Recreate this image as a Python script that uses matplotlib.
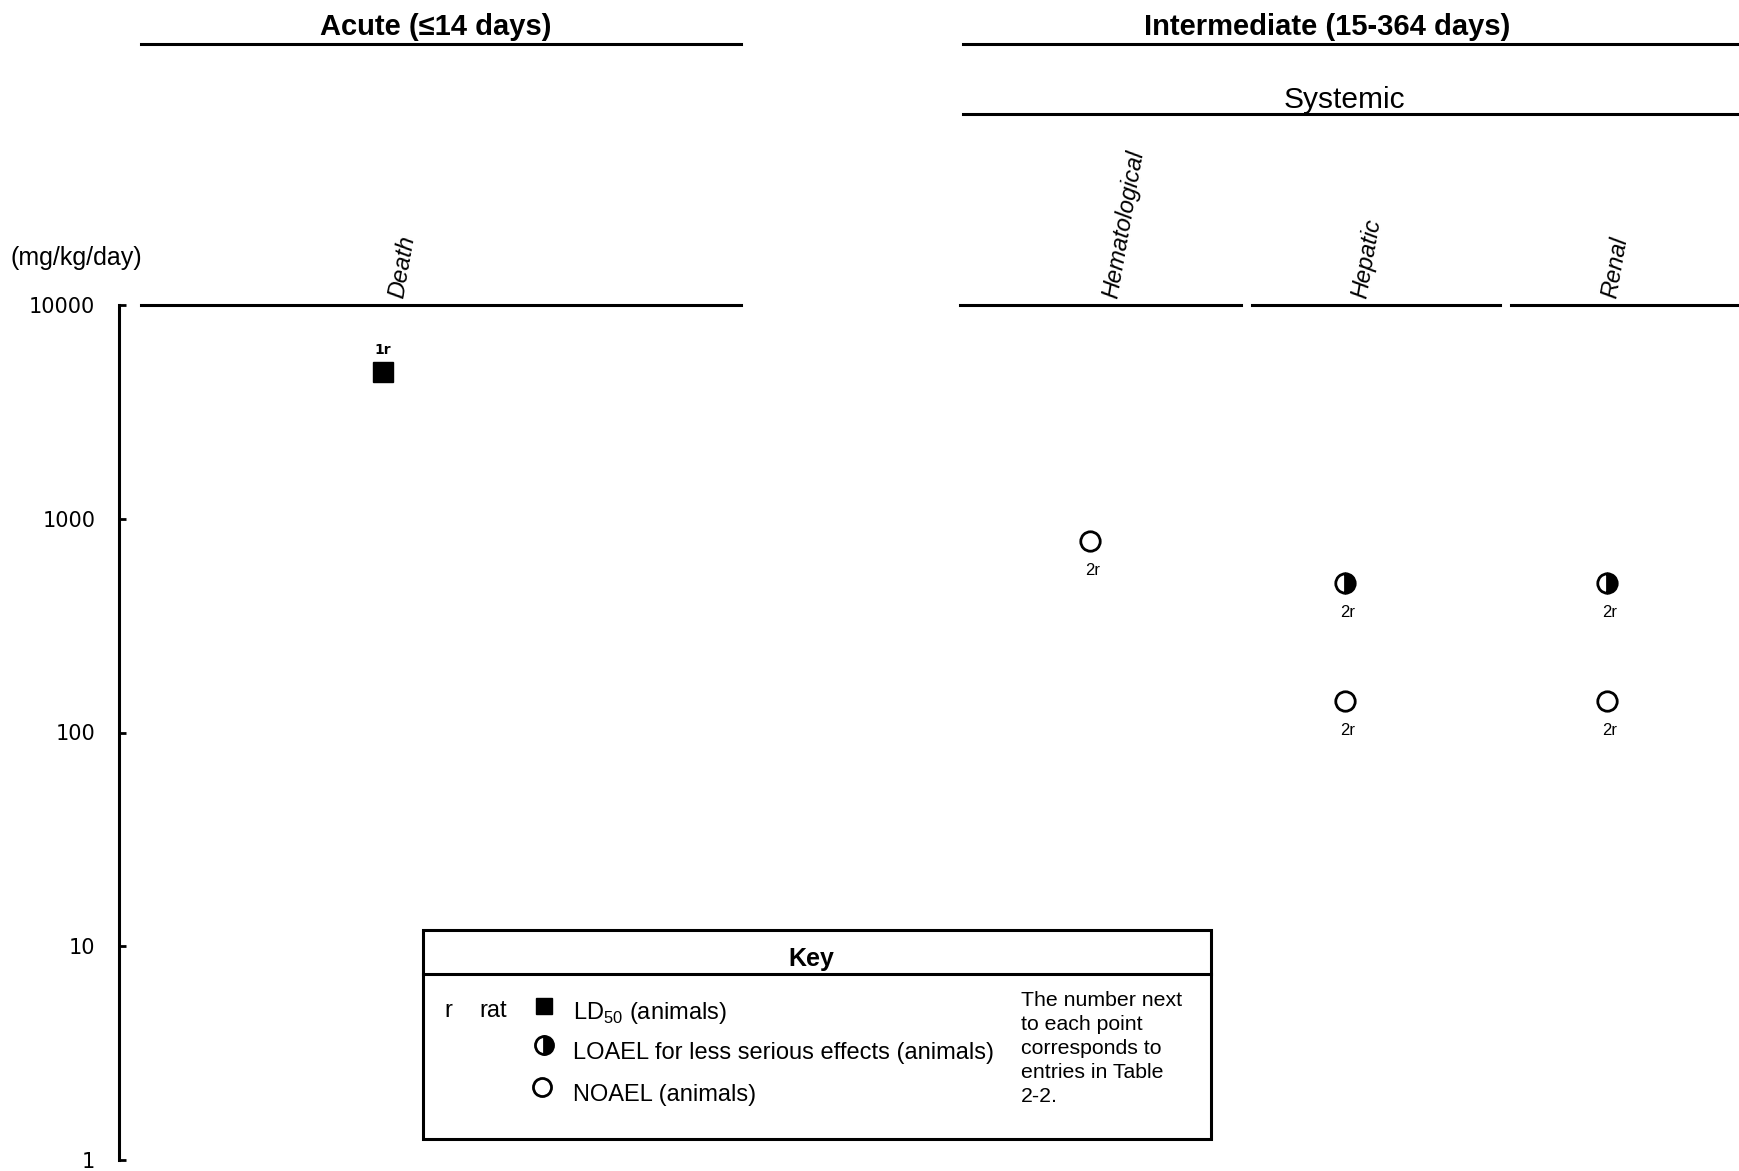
import matplotlib
matplotlib.use("Agg")
import matplotlib.pyplot as plt
from matplotlib.lines import Line2D
from matplotlib.patches import Rectangle
from matplotlib.ticker import NullLocator

NARROW = ["Liberation Sans Narrow", "Liberation Sans", "DejaVu Sans"]
plt.rcParams["mathtext.fontset"] = "custom"
plt.rcParams["mathtext.rm"] = "Liberation Sans"

# --- data ---
COLUMNS = ["Death", "Hematological", "Hepatic", "Renal"]
DOSES = [4870, 785, 500, 140, 500, 140]          # mg/kg/day
DOSE_COL = [0, 1, 2, 2, 3, 3]
DOSE_KIND = ["ld50", "noael", "loael", "noael", "loael", "noael"]
DOSE_LABEL = ["1r", "2r", "2r", "2r", "2r", "2r"]
YTICKS = [1, 10, 100, 1000, 10000]
YTICK_LABELS = ["1", "10", "100", "1000", "10000"]

# --- layout (pixels of the 1740x1171 canvas) ---
W, H = 1740, 1171
COL_X = [383, 1090, 1345, 1607]
LABEL_X = [408, 1122, 1371, 1621]
COL_LINES = [(141, 741), (960, 1241), (1252, 1500), (1511, 1740)]
AX_TOP, AX_BOT = 305, 1160


def fx(px):
    return px / W


def fy(py):
    return 1 - py / H


fig = plt.figure(figsize=(17.4, 11.71), dpi=100)
ax = fig.add_axes([fx(119), fy(AX_BOT), fx(1740 - 119), (AX_BOT - AX_TOP) / H])
ax.set_yscale("log")
ax.set_ylim(1, 10000)
ax.set_xlim(119, 1740)
ax.set_yticks(YTICKS)
ax.set_yticklabels(YTICK_LABELS, fontsize=15, family="DejaVu Sans")
ax.yaxis.set_minor_locator(NullLocator())
ax.tick_params(axis="y", direction="in", length=5, width=2, pad=17)
ax.set_xticks([])
for s in ["top", "right", "bottom"]:
    ax.spines[s].set_visible(False)
ax.spines["left"].set_linewidth(2.2)
ax.patch.set_visible(False)

# column rules at the top of the axis
for x0, x1 in COL_LINES:
    ax.plot([x0, x1], [10000, 10000], color="black", lw=2.2, clip_on=False)

# column labels, tilted
for name, lx in zip(COLUMNS, LABEL_X):
    fig.text(fx(lx), fy(300), name, rotation=80, rotation_mode="anchor",
             ha="left", va="bottom", fontsize=17, style="italic",
             family=["Liberation Sans", "DejaVu Sans"])

# data points
for val, col, kind, lab in zip(DOSES, DOSE_COL, DOSE_KIND, DOSE_LABEL):
    x = COL_X[col]
    if kind == "ld50":
        ax.plot(x, val, marker="s", ms=15, color="black", clip_on=False)
        ax.annotate(lab, (x, val), xytext=(0, 16), textcoords="offset points",
                    ha="center", va="center", fontsize=10, fontweight="bold",
                    family="DejaVu Sans")
    else:
        if kind == "noael":
            ax.plot(x, val, marker="o", ms=14, mfc="white", mec="black",
                    mew=2.0, clip_on=False)
        else:
            ax.plot(x, val, marker="o", ms=14, fillstyle="right", mfc="black",
                    mfcalt="white", mec="black", mew=2.0, clip_on=False)
        ax.annotate(lab, (x, val), xytext=(2, -21), textcoords="offset points",
                    ha="center", va="center", fontsize=12, family=NARROW)

# headers
fig.add_artist(Line2D([fx(141), fx(741)], [fy(44), fy(44)], color="black", lw=2.2))
fig.add_artist(Line2D([fx(963), fx(1740)], [fy(44), fy(44)], color="black", lw=2.2))
fig.add_artist(Line2D([fx(963), fx(1740)], [fy(114), fy(114)], color="black", lw=2.2))
fig.text(fx(436), fy(27), "Acute (\u226414 days)", ha="center", va="center",
         fontsize=21, fontweight="bold", family=NARROW)
fig.text(fx(1327), fy(27), "Intermediate (15-364 days)", ha="center", va="center",
         fontsize=21, fontweight="bold", family=NARROW)
fig.text(fx(1344), fy(100), "Systemic", ha="center", va="center",
         fontsize=21.5, family=["Liberation Sans", "DejaVu Sans"])
fig.text(fx(11), fy(258), "(mg/kg/day)", ha="left", va="center",
         fontsize=18, family=NARROW)

# key box
fig.add_artist(Rectangle((fx(423), fy(1139)), fx(1211 - 423), (1139 - 930) / H,
                         transform=fig.transFigure, fill=False, lw=2.2,
                         edgecolor="black"))
fig.add_artist(Line2D([fx(423), fx(1211)], [fy(974), fy(974)], color="black", lw=2.2))
fig.text(fx(811), fy(959), "Key", ha="center", va="center", fontsize=18,
         fontweight="bold", family=NARROW)
fig.text(fx(444), fy(1011), "r", ha="left", va="center", fontsize=17, family=NARROW)
fig.text(fx(479), fy(1011), "rat", ha="left", va="center", fontsize=17, family=NARROW)
key_rows = [("s", "LD$_{\\mathrm{50}}$ (animals)", 1011),
            ("half", "LOAEL for less serious effects (animals)", 1051),
            ("o", "NOAEL (animals)", 1093)]
for mk, txt, py in key_rows:
    if mk == "s":
        m = Line2D([fx(544)], [fy(py - 5)], marker="s", ms=12, color="black",
                   transform=fig.transFigure)
    elif mk == "half":
        m = Line2D([fx(544)], [fy(py - 6)], marker="o", ms=13, fillstyle="right",
                   mfc="black", mfcalt="white", mec="black", mew=2.0,
                   transform=fig.transFigure)
    else:
        m = Line2D([fx(542)], [fy(py - 6)], marker="o", ms=13, mfc="white",
                   mec="black", mew=2.0, transform=fig.transFigure)
    fig.add_artist(m)
    fig.text(fx(573), fy(py + 2), txt, ha="left", va="center", fontsize=17,
             family=NARROW)
fig.text(fx(1021), fy(991),
         "The number next\nto each point\ncorresponds to\nentries in Table\n2-2.",
         ha="left", va="top", fontsize=15.3, family=NARROW, linespacing=1.33)

fig.savefig("out.png", dpi=100)
